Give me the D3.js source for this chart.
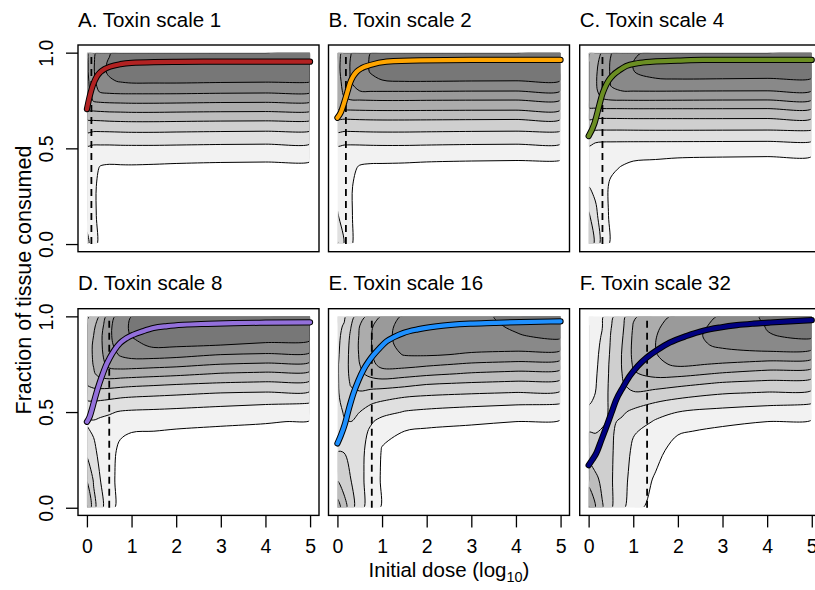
<!DOCTYPE html>
<html>
<head>
<meta charset="utf-8">
<script src="https://cdn.jsdelivr.net/npm/d3@7"></script>
<style>
  body { margin: 0; background: #fff; }
  svg { display: block; }
</style>
</head>
<body>
<div id="chart"></div>
<script>
// Columns = initial dose (log10), rows = fraction of tissue consumed (top row = 1.0).
const doseKnots = [0, 0.15, 0.3, 0.5, 0.75, 1, 1.5, 2, 3, 4, 5];
const fracKnots = [1, 0.95, 0.9, 0.85, 0.8, 0.75, 0.7, 0.65, 0.6, 0.55, 0.5, 0.45, 0.4, 0.3, 0.15, 0];

// Contour levels and the grey of each band (band 0 = below the first level).
const levels = [1, 2, 3, 4, 5, 6, 7, 8];
const bandGreys = ["#ffffff", "#f2f2f2", "#e0e0e0", "#cfcfcf", "#bdbdbd", "#acacac", "#9a9a9a", "#898989", "#777777"];

const panelLetters = ["A", "B", "C", "D", "E", "F"];
const toxinScales = [1, 2, 4, 8, 16, 32];
const curveColors = ["#b22222", "#ffa500", "#6b8e23", "#9370db", "#1e90ff", "#000080"];
// dashed vertical line, log10 dose
const thresholdDose = [0.1, 0.19, 0.31, 0.5, 0.77, 1.31];

const xTicks = [0, 1, 2, 3, 4, 5];
const yTicks = [0, 0.5, 1];

// Surface level values (estimated), one row per fracKnots entry.
const fieldA = [
  [5.7, 6.8, 7.4, 7.9, 8.4, 8.5, 8.6, 8.6, 8.6, 8.6, 8.6],
  [5.8, 6.9, 7.7, 8.1, 8.5, 8.7, 8.75, 8.75, 8.7, 8.7, 8.7],
  [5.8, 6.9, 7.8, 8.1, 8.4, 8.55, 8.6, 8.6, 8.55, 8.52, 8.5],
  [5.7, 6.75, 7.6, 7.9, 8.05, 8.15, 8.15, 8.15, 8.1, 8.07, 8.05],
  [5.6, 6.6, 7.15, 7.25, 7.3, 7.3, 7.3, 7.3, 7.25, 7.22, 7.2],
  [5.4, 6.1, 6.2, 6.25, 6.28, 6.3, 6.3, 6.28, 6.22, 6.2, 6.17],
  [5.0, 5.1, 5.15, 5.2, 5.22, 5.25, 5.25, 5.22, 5.18, 5.16, 5.14],
  [4.0, 4.07, 4.1, 4.15, 4.18, 4.2, 4.2, 4.18, 4.14, 4.12, 4.1],
  [3.3, 3.2, 3.2, 3.22, 3.25, 3.27, 3.27, 3.24, 3.2, 3.17, 3.15],
  [2.5, 2.4, 2.4, 2.4, 2.42, 2.44, 2.44, 2.42, 2.38, 2.36, 2.34],
  [1.85, 1.78, 1.78, 1.78, 1.8, 1.8, 1.8, 1.78, 1.74, 1.72, 1.7],
  [1.45, 1.3, 1.25, 1.3, 1.32, 1.32, 1.3, 1.25, 1.2, 1.18, 1.16],
  [1.35, 1.22, 0.95, 0.85, 0.87, 0.88, 0.85, 0.82, 0.78, 0.76, 0.75],
  [1.3, 1.2, 0.7, 0.5, 0.5, 0.5, 0.5, 0.5, 0.5, 0.5, 0.5],
  [1.6, 1.2, 0.7, 0.4, 0.3, 0.3, 0.3, 0.3, 0.3, 0.3, 0.3],
  [2.3, 1.3, 0.7, 0.4, 0.2, 0.1, 0.1, 0.1, 0.1, 0.1, 0.1]
];
const fieldB = [
  [5.7, 6.2, 6.95, 7.4, 8.0, 8.3, 8.5, 8.6, 8.6, 8.6, 8.6],
  [5.8, 6.3, 7.1, 7.6, 8.1, 8.5, 8.65, 8.7, 8.7, 8.7, 8.7],
  [5.8, 6.3, 7.1, 7.7, 8.05, 8.3, 8.45, 8.5, 8.5, 8.47, 8.45],
  [5.7, 6.25, 7.0, 7.5, 7.8, 7.95, 8.0, 8.0, 7.98, 7.97, 7.96],
  [5.6, 6.15, 6.9, 7.0, 7.05, 7.05, 7.05, 7.05, 7.02, 7.01, 7.0],
  [5.4, 5.9, 5.93, 5.95, 5.98, 6.0, 6.0, 5.98, 5.96, 5.95, 5.94],
  [4.95, 4.98, 5.0, 5.02, 5.04, 5.05, 5.05, 5.04, 5.02, 5.01, 5.0],
  [3.95, 3.95, 3.97, 4.0, 4.02, 4.03, 4.03, 4.02, 4.0, 3.98, 3.97],
  [3.25, 3.18, 3.18, 3.2, 3.22, 3.23, 3.23, 3.21, 3.18, 3.16, 3.15],
  [2.5, 2.42, 2.42, 2.43, 2.45, 2.46, 2.46, 2.44, 2.4, 2.38, 2.37],
  [1.85, 1.78, 1.76, 1.77, 1.79, 1.8, 1.8, 1.77, 1.73, 1.71, 1.69],
  [1.45, 1.35, 1.3, 1.25, 1.22, 1.22, 1.2, 1.16, 1.12, 1.1, 1.08],
  [1.4, 1.3, 1.2, 0.92, 0.85, 0.84, 0.82, 0.78, 0.75, 0.73, 0.72],
  [1.5, 1.3, 1.1, 0.6, 0.5, 0.5, 0.5, 0.5, 0.5, 0.5, 0.5],
  [2.1, 1.4, 1.1, 0.55, 0.35, 0.3, 0.3, 0.3, 0.3, 0.3, 0.3],
  [3.1, 1.9, 1.1, 0.5, 0.2, 0.1, 0.1, 0.1, 0.1, 0.1, 0.1]
];
const fieldC = [
  [4.8, 5.6, 6.05, 6.95, 7.4, 7.85, 8.25, 8.5, 8.6, 8.6, 8.6],
  [5.1, 5.75, 6.3, 7.1, 7.6, 8.0, 8.4, 8.6, 8.65, 8.65, 8.65],
  [5.3, 5.85, 6.4, 7.1, 7.7, 7.98, 8.3, 8.4, 8.4, 8.37, 8.35],
  [5.4, 5.9, 6.4, 7.05, 7.6, 7.75, 7.85, 7.87, 7.85, 7.83, 7.82],
  [5.4, 5.85, 6.3, 6.95, 7.0, 7.02, 7.03, 7.02, 7.0, 6.99, 6.98],
  [5.3, 5.6, 5.9, 5.95, 5.97, 5.98, 5.98, 5.97, 5.95, 5.94, 5.93],
  [4.9, 4.85, 4.83, 4.83, 4.83, 4.84, 4.84, 4.84, 4.84, 4.83, 4.83],
  [4.0, 3.9, 3.88, 3.88, 3.89, 3.9, 3.9, 3.9, 3.9, 3.89, 3.89],
  [3.2, 3.1, 3.08, 3.08, 3.08, 3.09, 3.1, 3.1, 3.09, 3.08, 3.07],
  [2.35, 2.22, 2.2, 2.2, 2.2, 2.2, 2.2, 2.2, 2.19, 2.18, 2.18],
  [1.9, 1.7, 1.6, 1.58, 1.56, 1.55, 1.54, 1.53, 1.52, 1.51, 1.5],
  [1.85, 1.5, 1.4, 1.3, 1.2, 1.1, 1.05, 1.0, 0.95, 0.92, 0.9],
  [1.95, 1.55, 1.4, 1.15, 0.95, 0.8, 0.75, 0.72, 0.7, 0.7, 0.7],
  [2.0, 1.7, 1.35, 0.85, 0.6, 0.5, 0.5, 0.5, 0.5, 0.5, 0.5],
  [3.15, 2.3, 1.4, 0.85, 0.4, 0.3, 0.3, 0.3, 0.3, 0.3, 0.3],
  [3.6, 2.8, 1.5, 0.85, 0.3, 0.1, 0.1, 0.1, 0.1, 0.1, 0.1]
];
const fieldD = [
  [3.8, 4.3, 5.15, 6.5, 7.5, 8.0, 8.35, 8.5, 8.55, 8.6, 8.6],
  [4.2, 4.8, 5.6, 6.75, 7.75, 8.1, 8.55, 8.65, 8.65, 8.62, 8.6],
  [4.5, 5.0, 5.8, 6.8, 7.7, 8.05, 8.5, 8.55, 8.45, 8.38, 8.3],
  [4.6, 5.1, 5.8, 6.75, 7.45, 7.7, 8.2, 8.15, 8.0, 7.87, 7.74],
  [4.6, 5.1, 5.75, 6.6, 7.1, 7.35, 7.4, 7.3, 7.0, 6.89, 6.78],
  [4.55, 5.05, 5.6, 6.3, 6.5, 6.5, 6.4, 6.3, 6.0, 5.88, 5.76],
  [4.4, 4.9, 5.3, 5.55, 5.5, 5.44, 5.33, 5.22, 4.94, 4.82, 4.71],
  [4.1, 4.4, 4.5, 4.5, 4.4, 4.33, 4.22, 4.11, 3.94, 3.84, 3.74],
  [3.5, 3.6, 3.6, 3.55, 3.45, 3.36, 3.27, 3.18, 3.0, 2.92, 2.84],
  [2.85, 2.9, 2.85, 2.75, 2.6, 2.54, 2.46, 2.38, 2.23, 2.12, 2.02],
  [2.2, 2.25, 2.2, 2.1, 1.93, 1.87, 1.83, 1.78, 1.67, 1.56, 1.46],
  [1.9, 1.95, 1.85, 1.75, 1.55, 1.45, 1.42, 1.35, 1.19, 1.06, 0.93],
  [2.1, 1.9, 1.7, 1.55, 1.15, 1.03, 1.0, 0.9, 0.8, 0.78, 0.75],
  [2.7, 2.2, 1.7, 1.35, 0.8, 0.6, 0.6, 0.55, 0.5, 0.5, 0.5],
  [3.9, 2.9, 2.0, 1.3, 0.7, 0.4, 0.35, 0.3, 0.3, 0.3, 0.3],
  [5.1, 3.3, 2.3, 1.3, 0.7, 0.3, 0.2, 0.1, 0.1, 0.1, 0.1]
];
const fieldE = [
  [2.6, 2.8, 3.6, 4.55, 5.4, 6.1, 7.2, 7.5, 7.8, 8.2, 8.55],
  [2.7, 3.1, 3.95, 5.0, 5.85, 6.6, 7.35, 7.6, 7.75, 8.1, 8.5],
  [2.75, 3.3, 4.15, 5.1, 5.95, 6.7, 7.35, 7.55, 7.6, 7.95, 8.2],
  [2.8, 3.4, 4.25, 5.15, 5.95, 6.7, 7.25, 7.4, 7.35, 7.45, 7.57],
  [2.85, 3.45, 4.3, 5.1, 5.9, 6.6, 7.05, 7.1, 6.9, 6.75, 6.57],
  [2.9, 3.5, 4.3, 5.0, 5.75, 6.3, 6.4, 6.2, 5.87, 5.72, 5.57],
  [2.9, 3.5, 4.25, 4.8, 5.3, 5.6, 5.4, 5.2, 4.9, 4.74, 4.58],
  [2.9, 3.45, 4.1, 4.4, 4.5, 4.5, 4.33, 4.1, 3.92, 3.79, 3.65],
  [2.9, 3.35, 3.8, 3.9, 3.7, 3.6, 3.42, 3.25, 3.08, 2.96, 2.84],
  [2.85, 3.2, 3.5, 3.4, 3.1, 2.9, 2.5, 2.36, 2.23, 2.15, 2.06],
  [2.8, 3.05, 3.25, 3.0, 2.6, 2.3, 1.95, 1.84, 1.71, 1.56, 1.42],
  [2.75, 2.95, 3.0, 2.6, 2.1, 1.7, 1.45, 1.32, 1.11, 1.0, 0.9],
  [2.75, 2.9, 2.85, 2.4, 1.85, 1.2, 1.0, 0.85, 0.8, 0.78, 0.75],
  [2.95, 2.95, 2.8, 2.3, 1.6, 0.95, 0.6, 0.5, 0.5, 0.5, 0.5],
  [3.9, 3.5, 3.0, 2.3, 1.5, 0.9, 0.4, 0.3, 0.3, 0.3, 0.3],
  [5.5, 4.4, 3.4, 2.3, 1.5, 0.9, 0.3, 0.1, 0.1, 0.1, 0.1]
];
const fieldF = [
  [1.38, 1.65, 1.85, 2.8, 3.6, 4.9, 5.4, 6.35, 7.1, 8.2, 8.5],
  [1.4, 1.7, 1.95, 2.95, 3.8, 5.05, 5.8, 6.6, 7.2, 8.05, 8.45],
  [1.42, 1.72, 2.05, 3.05, 3.9, 5.15, 5.95, 6.75, 7.2, 7.95, 8.2],
  [1.45, 1.75, 2.15, 3.1, 4.0, 5.2, 6.0, 6.75, 7.1, 7.55, 7.47],
  [1.48, 1.78, 2.25, 3.15, 4.05, 5.2, 5.95, 6.6, 6.8, 6.7, 6.49],
  [1.5, 1.8, 2.35, 3.2, 4.05, 5.1, 5.75, 6.2, 5.9, 5.64, 5.45],
  [1.55, 1.85, 2.45, 3.2, 4.0, 4.9, 5.3, 5.3, 4.9, 4.62, 4.44],
  [1.6, 1.9, 2.55, 3.2, 3.9, 4.5, 4.5, 4.3, 3.9, 3.73, 3.56],
  [1.7, 2.0, 2.6, 3.2, 3.7, 3.9, 3.7, 3.45, 3.08, 2.93, 2.78],
  [1.9, 2.15, 2.7, 3.15, 3.4, 3.3, 3.0, 2.7, 2.36, 2.21, 2.06],
  [2.2, 2.35, 2.8, 3.1, 3.1, 2.85, 2.35, 2.0, 1.74, 1.59, 1.42],
  [2.6, 2.65, 2.9, 3.1, 2.9, 2.5, 1.9, 1.45, 1.21, 1.0, 0.9],
  [2.97, 2.95, 3.05, 3.1, 2.75, 2.1, 1.65, 1.1, 0.8, 0.8, 0.75],
  [3.55, 3.4, 3.4, 3.1, 2.6, 1.8, 1.3, 0.6, 0.5, 0.5, 0.5],
  [4.6, 4.2, 3.8, 3.1, 2.4, 1.6, 0.9, 0.3, 0.3, 0.3, 0.3],
  [6.1, 5.0, 4.1, 3.1, 2.2, 1.4, 0.5, 0.1, 0.1, 0.1, 0.1]
];

// Coloured trajectories, [log10 dose, fraction consumed]
const curveA = [[0, 0.705], [0.05, 0.76], [0.1, 0.805], [0.15, 0.84], [0.22, 0.875], [0.3, 0.898], [0.4, 0.915], [0.52, 0.927], [0.75, 0.94], [1, 0.947], [1.5, 0.951], [2, 0.952], [3, 0.953], [4, 0.953], [5, 0.953]];
const curveB = [[0, 0.66], [0.08, 0.69], [0.17, 0.753], [0.23, 0.8], [0.28, 0.84], [0.35, 0.875], [0.43, 0.9], [0.55, 0.92], [0.73, 0.935], [1.1, 0.953], [1.85, 0.96], [3, 0.962], [5, 0.962]];
const curveC = [[0, 0.564], [0.13, 0.63], [0.2, 0.69], [0.25, 0.735], [0.3, 0.778], [0.36, 0.815], [0.45, 0.855], [0.55, 0.883], [0.7, 0.91], [0.84, 0.93], [1.1, 0.945], [1.44, 0.953], [2, 0.958], [2.56, 0.962], [5, 0.962]];
const curveD = [[0, 0.449], [0.06, 0.475], [0.13, 0.53], [0.21, 0.598], [0.28, 0.65], [0.36, 0.703], [0.43, 0.745], [0.51, 0.782], [0.62, 0.825], [0.74, 0.86], [0.88, 0.885], [1.04, 0.904], [1.25, 0.922], [1.49, 0.939], [1.8, 0.949], [2.16, 0.956], [2.7, 0.961], [3.29, 0.965], [4, 0.967], [5, 0.969]];
const curveE = [[0, 0.336], [0.08, 0.38], [0.17, 0.44], [0.26, 0.52], [0.36, 0.598], [0.47, 0.665], [0.58, 0.72], [0.7, 0.765], [0.81, 0.799], [0.95, 0.835], [1.1, 0.869], [1.28, 0.893], [1.48, 0.913], [1.8, 0.932], [2.22, 0.948], [2.97, 0.962], [3.5, 0.966], [4.09, 0.97], [5, 0.974]];
const curveF = [[0, 0.222], [0.08, 0.25], [0.17, 0.284], [0.28, 0.35], [0.4, 0.424], [0.51, 0.495], [0.62, 0.565], [0.77, 0.63], [0.92, 0.688], [1.1, 0.74], [1.3, 0.784], [1.55, 0.826], [1.82, 0.863], [2.2, 0.898], [2.57, 0.925], [2.95, 0.942], [3.32, 0.954], [3.7, 0.962], [4.07, 0.968], [4.5, 0.974], [5, 0.98]];

const fields = [fieldA, fieldB, fieldC, fieldD, fieldE, fieldF];
const curves = [curveA, curveB, curveC, curveD, curveE, curveF];

// ---- layout ----
const width = 815, height = 590;
const boxW = 241, boxH = 206.7;
const colLeft = [78, 328.5, 579.7];
const rowTop = [45, 308.7];
const FONT = "'Liberation Sans', Arial, Helvetica, sans-serif";

const svg = d3.select("#chart").append("svg")
  .attr("width", width)
  .attr("height", height)
  .attr("font-family", FONT);
const defs = svg.append("defs");

// contour rings come back in grid units; value i sits at i + 0.5
const fracUp = fracKnots.slice().reverse();
const gridToDose = d3.scaleLinear().domain(doseKnots.map((_, i) => i + 0.5)).range(doseKnots).clamp(true);
const gridToFrac = d3.scaleLinear().domain(fracUp.map((_, j) => j + 0.5)).range(fracUp).clamp(true);
const ringLine = d3.line().curve(d3.curveCatmullRomClosed.alpha(0.5));

function geomPath(geom, x, y) {
  return geom.coordinates.map(poly => poly.map(ring => {
    const pts = [];
    ring.forEach(([cx, cy]) => {
      const p = [x(gridToDose(cx)), y(gridToFrac(cy))];
      const q = pts[pts.length - 1];
      if (!q || Math.hypot(p[0] - q[0], p[1] - q[1]) > 0.05) pts.push(p);
    });
    if (pts.length > 2 && Math.hypot(pts[0][0] - pts[pts.length - 1][0], pts[0][1] - pts[pts.length - 1][1]) < 0.05) pts.pop();
    return pts.length > 2 ? ringLine(pts) : "";
  }).join("")).join("");
}

function drawField(g, rows, x, y, i) {
  const nx = doseKnots.length, ny = fracKnots.length;
  const values = [];
  for (let j = 0; j < ny; j++) values.push(...rows[ny - 1 - j]);
  const bands = d3.contours().size([nx, ny]).thresholds(levels)(values);

  const x0 = x(0), x1 = x(5), y0 = y(1), y1 = y(0);
  defs.append("clipPath").attr("id", `fill-${i}`)
    .append("rect").attr("x", x0).attr("y", y0).attr("width", x1 - x0).attr("height", y1 - y0);
  defs.append("clipPath").attr("id", `lines-${i}`)
    .append("rect").attr("x", x0 + 1).attr("y", y0 + 1).attr("width", x1 - x0 - 2).attr("height", y1 - y0 - 2);

  const fill = g.append("g").attr("clip-path", `url(#fill-${i})`);
  fill.append("rect")
    .attr("x", x0).attr("y", y0).attr("width", x1 - x0).attr("height", y1 - y0)
    .attr("fill", bandGreys[0]);
  fill.selectAll("path")
    .data(bands)
    .join("path")
    .attr("d", d => geomPath(d, x, y))
    .attr("fill", (d, k) => bandGreys[k + 1]);

  g.append("g").attr("clip-path", `url(#lines-${i})`)
    .selectAll("path")
    .data(bands)
    .join("path")
    .attr("d", d => geomPath(d, x, y))
    .attr("fill", "none")
    .attr("stroke", "#000")
    .attr("stroke-width", 1);
}

fields.forEach((rows, i) => {
  const col = i % 3, row = Math.floor(i / 3);
  const g = svg.append("g").attr("transform", `translate(${colLeft[col]},${rowTop[row]})`);
  const x = d3.scaleLinear().domain([-0.2, 5.2]).range([0, boxW]);
  const y = d3.scaleLinear().domain([-0.04, 1.04]).range([boxH, 0]);

  drawField(g, rows, x, y, i);

  // threshold dose
  g.append("line")
    .attr("x1", x(thresholdDose[i])).attr("x2", x(thresholdDose[i]))
    .attr("y1", y(0)).attr("y2", y(1))
    .attr("stroke", "#000")
    .attr("stroke-width", 1.8)
    .attr("stroke-dasharray", "7,5");

  // trajectory: black casing under the coloured line
  const line = d3.line().x(d => x(d[0])).y(d => y(d[1])).curve(d3.curveMonotoneX);
  g.append("path")
    .attr("d", line(curves[i]))
    .attr("fill", "none")
    .attr("stroke", "#000")
    .attr("stroke-width", 6.2)
    .attr("stroke-linecap", "round")
    .attr("stroke-linejoin", "round");
  g.append("path")
    .attr("d", line(curves[i]))
    .attr("fill", "none")
    .attr("stroke", curveColors[i])
    .attr("stroke-width", 4.2)
    .attr("stroke-linecap", "round")
    .attr("stroke-linejoin", "round");

  g.append("rect")
    .attr("width", boxW).attr("height", boxH)
    .attr("fill", "none")
    .attr("stroke", "#000")
    .attr("stroke-width", 1.4);

  g.append("text")
    .attr("x", 0)
    .attr("y", -18.3)
    .attr("font-size", 20.5)
    .text(`${panelLetters[i]}. Toxin scale ${toxinScales[i]}`);

  if (col === 0) {
    const ay = g.append("g")
      .call(d3.axisLeft(y).tickValues(yTicks).tickSize(12).tickFormat(d3.format(".1f")));
    ay.select(".domain").remove();
    ay.selectAll(".tick line").attr("stroke", "#000").attr("stroke-width", 1.3);
    ay.selectAll(".tick text")
      .attr("transform", "rotate(-90)")
      .attr("x", 0)
      .attr("y", -25)
      .attr("dy", null)
      .attr("text-anchor", "middle")
      .attr("font-size", 19.5)
      .attr("font-family", FONT)
      .attr("fill", "#000");
  }
  if (row === 1) {
    const ax = g.append("g")
      .attr("transform", `translate(0,${boxH})`)
      .call(d3.axisBottom(x).tickValues(xTicks).tickSize(12).tickFormat(d3.format("d")));
    ax.select(".domain").remove();
    ax.selectAll(".tick line").attr("stroke", "#000").attr("stroke-width", 1.3);
    ax.selectAll(".tick text")
      .attr("y", 38)
      .attr("dy", null)
      .attr("font-size", 19.5)
      .attr("font-family", FONT)
      .attr("fill", "#000");
  }
});

// axis titles
svg.append("text")
  .attr("transform", "translate(31,280) rotate(-90)")
  .attr("text-anchor", "middle")
  .attr("font-size", 21.5)
  .text("Fraction of tissue consumed");

const xTitle = svg.append("text")
  .attr("x", 449)
  .attr("y", 577)
  .attr("text-anchor", "middle")
  .attr("font-size", 20.5);
xTitle.append("tspan").text("Initial dose (log");
xTitle.append("tspan").attr("dy", 5).attr("font-size", 14.5).text("10");
xTitle.append("tspan").attr("dy", -5).text(")");
</script>
</body>
</html>
